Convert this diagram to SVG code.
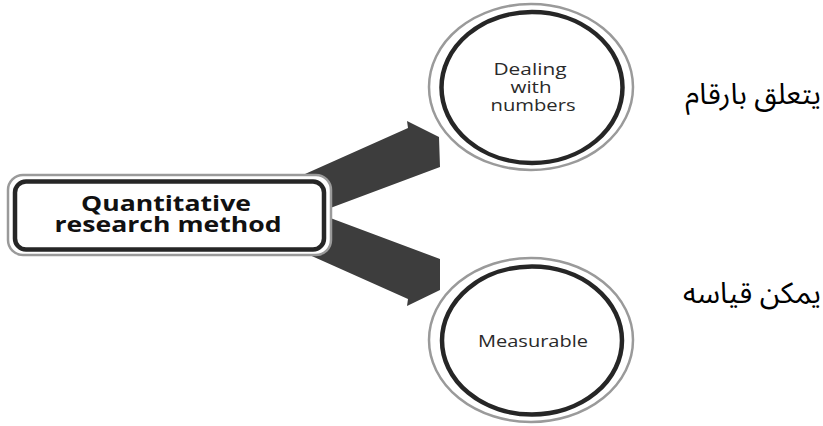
<svg xmlns="http://www.w3.org/2000/svg" width="823" height="426" viewBox="0 0 823 426">
  <style>
    .halo { fill: #ffffff; stroke: #9a9a9a; stroke-width: 2.5; }
    .ring { fill: none; stroke: #262626; stroke-width: 4.5; }
    .arrow { fill: #3d3d3d; stroke: none; }
    .main { font-family: "Open Sans", "Liberation Sans", sans-serif; font-weight: bold; font-size: 22px; fill: #111111; text-anchor: middle; }
    .lbl { font-family: "Open Sans", "Liberation Sans", sans-serif; font-size: 16.5px; fill: #2a2a2a; text-anchor: middle; }
    .ar { font-family: "Noto Sans Arabic", "DejaVu Sans", sans-serif; font-size: 29px; fill: #000000; text-anchor: end; }
  </style>

  <g id="connectors">
    <polygon class="arrow" points="305,174 408,128 407,121 439,137 440,167 325,210"/>
    <polygon class="arrow" points="325,216 440,259 440,290 407,306 408,299 305,253"/>
  </g>

  <g id="node-quantitative">
    <rect class="halo" x="8" y="175" width="323" height="80" rx="15"/>
    <rect class="ring" x="15" y="181.5" width="309" height="68" rx="11"/>
    <text class="main" x="166" y="211" textLength="170" lengthAdjust="spacingAndGlyphs">Quantitative</text>
    <text class="main" x="168" y="232" textLength="227" lengthAdjust="spacingAndGlyphs">research method</text>
  </g>

  <g id="node-dealing">
    <ellipse class="halo" cx="531" cy="87" rx="102" ry="83"/>
    <ellipse class="ring" cx="532" cy="87.5" rx="90.5" ry="75.5"/>
    <text class="lbl" x="530" y="75" textLength="73" lengthAdjust="spacingAndGlyphs">Dealing</text>
    <text class="lbl" x="531" y="93" textLength="41" lengthAdjust="spacingAndGlyphs">with</text>
    <text class="lbl" x="533" y="111" textLength="85" lengthAdjust="spacingAndGlyphs">numbers</text>
  </g>

  <g id="node-measurable">
    <ellipse class="halo" cx="531" cy="340" rx="102" ry="82"/>
    <ellipse class="ring" cx="532" cy="340.5" rx="90" ry="74"/>
    <text class="lbl" x="533" y="347" textLength="110" lengthAdjust="spacingAndGlyphs">Measurable</text>
  </g>

  <g id="label-dealing-ar">
    <text class="ar" x="821" y="104">يتعلق بارقام</text>
  </g>
  <g id="label-measurable-ar">
    <text class="ar" x="821" y="303">يمكن قياسه</text>
  </g>
</svg>
